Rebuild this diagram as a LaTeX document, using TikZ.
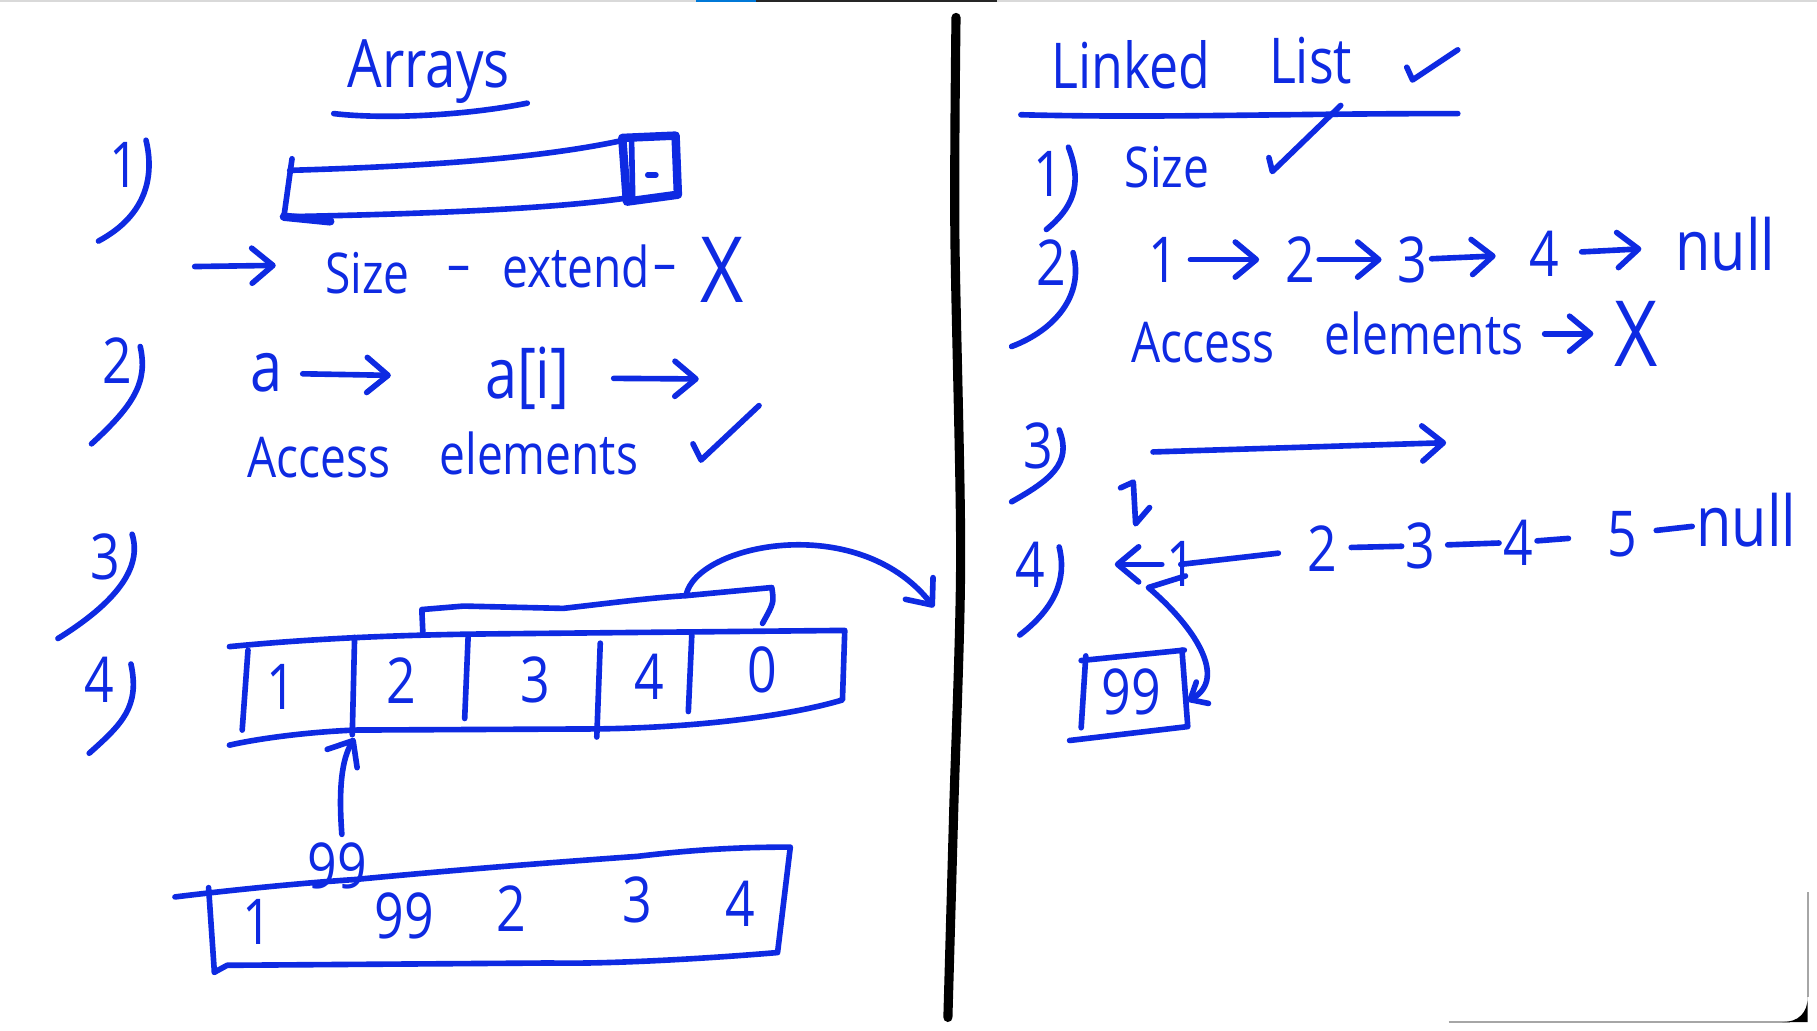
\documentclass[tikz,border=0pt]{standalone}
\usepackage{fontspec}
\setmainfont{Open Sans}[FakeStretch=0.82]
\usetikzlibrary{arrows.meta}
\definecolor{ink}{RGB}{14,42,226}
\definecolor{tabblue}{RGB}{0,120,215}
\tikzset{
 ln/.style={draw=ink, line width=1.6pt, line cap=round, line join=round},
 harrow/.style={ln, -{Straight Barb[length=6pt,width=10pt,round]}},
 txt/.style={text=ink, inner sep=1pt, font=\fontsize{16}{18}\selectfont},
 dig/.style={txt, font=\fontsize{18}{20}\selectfont},
 big/.style={txt, font=\fontsize{20}{22}\selectfont},
 ttl/.style={txt, font=\fontsize{19}{22}\selectfont},
 xmark/.style={txt, font=\fontsize{26}{28}\selectfont},
 divider/.style={draw=black, line width=2.6pt, line cap=round},
}
\begin{document}
\begin{tikzpicture}[x=0.0116cm,y=-0.0116cm]
\useasboundingbox (0,0) rectangle (1568,889);
\fill[white] (0,0) rectangle (1568,889);
% screen edges
\fill[gray!30] (0,0) rectangle (1568,2);
\fill[tabblue] (601,0) rectangle (652,2);
\fill[black!85] (652,0) rectangle (860,2);
\draw[gray!70, line width=0.6pt] (1250,882) -- (1545,882);
\draw[gray!70, line width=0.6pt] (1560,770) -- (1560,860);
\fill[black] (1560,860) -- (1560,882) -- (1538,882) .. controls (1552,882) and (1560,874) .. (1560,860) -- cycle;

% divider
\draw[divider] plot[smooth] coordinates {(825,15) (824,200) (829,480) (823,700) (818,878)};

% ================= LEFT: Arrays =================
\node[ttl] (arrays) at (370,62) {Arrays};
\draw[ln] (288,98) .. controls (330,103) and (400,100) .. (455,89);

% 1)
\node[dig] (l1) at (107,142) {1};
\draw[ln] (126,121) .. controls (133,150) and (128,185) .. (85,208);
% array box
\draw[ln] (252,137) -- (245,187);
\draw[ln, line width=2.4pt] (245,187) -- (285,191);
\draw[ln] (250,147) .. controls (350,144) and (460,138) .. (538,121);
\draw[ln] (246,187) .. controls (350,185) and (470,181) .. (540,171);
\draw[ln, line width=2.4pt] (537,119) -- (583,117) -- (585,168) -- (541,174) -- cycle;
\draw[ln] (545,121) -- (546,172);
\draw[ln] (559,151) -- (566,151);
% -> Size - extend - X
\coordinate (s0) at (168,230);
\coordinate (s1) at (238,229);
\draw[harrow] (s0) -- (s1);
\node[txt] (size) at (317,236) {Size};
\node[txt] (dash1) at (396,237) {–};
\node[txt] (extend) at (497,230) {extend};
\node[txt] (dash2) at (574,236) {–};
\node[xmark] (x1) at (623,233) {X};

% 2)
\node[dig] (l2) at (101,311) {2};
\draw[ln] (121,299) .. controls (128,330) and (115,350) .. (79,383);
\node[big] (a) at (230,322) {a};
\node[big] (ai) at (455,326) {a[i]};
\draw[harrow, shorten <=0.16cm, shorten >=0.9cm] (a) -- (ai);
\coordinate (aiend) at (603,327);
\draw[harrow, shorten <=0.4cm] (ai) -- (aiend);
\node[txt] (acc1) at (275,395) {Access};
\node[txt] (el1) at (465,391) {elements};
\draw[ln] (598,383) -- (605,397) -- (655,350);

% 3)
\node[dig] (l3) at (91,481) {3};
\draw[ln] (114,461) .. controls (123,490) and (100,520) .. (50,551);

% 4)
\node[dig] (l4) at (86,587) {4};
\draw[ln] (113,573) .. controls (121,610) and (105,625) .. (77,650);

% array with cells
\draw[ln] (198,558) .. controls (260,552) and (330,548) .. (423,547) -- (729,544) -- (727,604)
  .. controls (680,618) and (600,628) .. (515,629) -- (306,630) .. controls (260,632) and (220,638) .. (198,643);
\draw[ln] (214,561) -- (209,630);
\draw[ln] (306,550) -- (304,634);
\draw[ln] (404,549) -- (401,620);
\draw[ln] (518,555) -- (515,636);
\draw[ln] (597,548) -- (594,614);
\node[dig] (a1) at (243,593) {1};
\node[dig] (a2) at (346,587) {2};
\node[dig] (a3) at (462,587) {3};
\node[dig] (a4) at (560,584) {4};
\node[dig] (a0) at (658,578) {0};
% shift bracket
\draw[ln] (365,548) -- (364,526) -- (400,523) -- (486,525) .. controls (530,520) and (560,516) .. (592,514) -- (666,507) .. controls (668,520) .. (658,538);
\coordinate (sh0) at (592,514);
\coordinate (sh1) at (806,524);
\draw[harrow] (sh0) .. controls (600,470) and (740,440) .. (sh1);
% insertion arrow
\coordinate (in0) at (295,720);
\coordinate (in1) at (306,637);
\draw[harrow] (in0) .. controls (292,680) and (295,655) .. (in1);

% result array
\draw[ln] (151,774) .. controls (200,768) and (260,762) .. (306,759) .. controls (400,750) and (480,744) .. (550,739) .. controls (600,733) and (640,731) .. (682,731) -- (671,822)
  .. controls (600,828) and (520,832) .. (475,831) -- (196,833) -- (185,839);
\draw[ln] (180,766) -- (185,839);
\node[dig] (b99t) at (291,747) {99};
\node[dig] (b1) at (222,796) {1};
\node[dig] (b99) at (349,790) {99};
\node[dig] (b2) at (441,784) {2};
\node[dig] (b3) at (550,777) {3};
\node[dig] (b4) at (639,780) {4};

% ================= RIGHT: Linked List =================
\node[ttl, font=\fontsize{18}{20}\selectfont] (linked) at (976,56) {Linked};
\node[ttl, font=\fontsize{18}{20}\selectfont] (list) at (1131,52) {List};
\draw[ln] (1214,58) -- (1219,69) -- (1258,43);
\draw[ln] (881,99) .. controls (1000,102) and (1100,98) .. (1258,98);
\draw[ln] (1095,136) -- (1098,148) -- (1157,91);

% 1)
\node[dig] (r1l) at (905,150) {1};
\draw[ln] (922,127) .. controls (935,160) and (925,180) .. (903,198);
\node[txt] (rsize) at (1007,144) {Size};

% 2)
\node[dig] (r2l) at (907,227) {2};
\draw[ln] (926,218) .. controls (936,255) and (910,285) .. (873,299);
\node[dig] (r1) at (1004,224) {1};
\node[dig] (r2) at (1122,224) {2};
\node[dig] (r3) at (1219,224) {3};
\node[dig] (r4) at (1333,219) {4};
\node[big] (rnull) at (1489,211) {null};
\draw[harrow, shorten <=0.08cm, shorten >=0.22cm] (r1) -- (r2);
\draw[harrow, shorten >=0.12cm] (r2) -- (r3);
\draw[harrow, shorten >=0.3cm] (r3) -- (r4);
\draw[harrow, shorten <=0.18cm, shorten >=0.3cm] (r4) -- (rnull);
\node[txt] (acc2) at (1038,296) {Access};
\node[txt] (el2) at (1229,288) {elements};
\node[xmark] (x2) at (1412,288) {X};
\draw[harrow, shorten <=0.17cm, shorten >=0.17cm] (el2) -- (x2);

% 3)
\node[dig] (r3l) at (896,385) {3};
\draw[ln] (914,371) .. controls (926,400) and (905,415) .. (873,433);
\coordinate (t0) at (995,390);
\coordinate (t1) at (1248,382);
\draw[harrow] (t0) -- (t1);

% head marker
\draw[ln] (967,421) -- (978,416) -- (980,452) -- (992,438);

% 4)
\node[dig] (r4l) at (889,487) {4};
\draw[ln] (914,472) .. controls (921,500) and (910,525) .. (880,548);
\node[dig] (c1) at (1019,487) {1};
\coordinate (lh) at (962,487);
\draw[harrow] (c1) -- (lh);
\node[dig] (c2) at (1141,473) {2};
\node[dig] (c3) at (1226,471) {3};
\node[dig] (c4) at (1310,468) {4};
\node[dig] (c5) at (1400,461) {5};
\node[big] (cnull) at (1507,449) {null};
\draw[ln, shorten >=0.25cm] (c1.center) -- (c2);
\draw[ln, shorten <=0.1cm] (c2) -- (c3);
\draw[ln, shorten <=0.08cm] (c3) -- (c4);
\draw[ln, shorten >=0.35cm] (c4) -- (c5);
\draw[ln, shorten <=0.15cm] (c5) -- (cnull);

% new node 99
\node[dig] (n99) at (976,597) {99};
\draw[ln] (933,570) -- (1022,561);
\draw[ln] (937,566) -- (933,628);
\draw[ln] (1020,561) -- (1025,627) -- (923,639);
\coordinate (k0) at (1023,497);
\coordinate (k1) at (991,507);
\coordinate (k2) at (1025,605);
\draw[ln, -{Straight Barb[length=4pt,width=7pt,round]}] (k0) -- (k1) .. controls (1030,540) and (1060,585) .. (k2);
\end{tikzpicture}
\end{document}
